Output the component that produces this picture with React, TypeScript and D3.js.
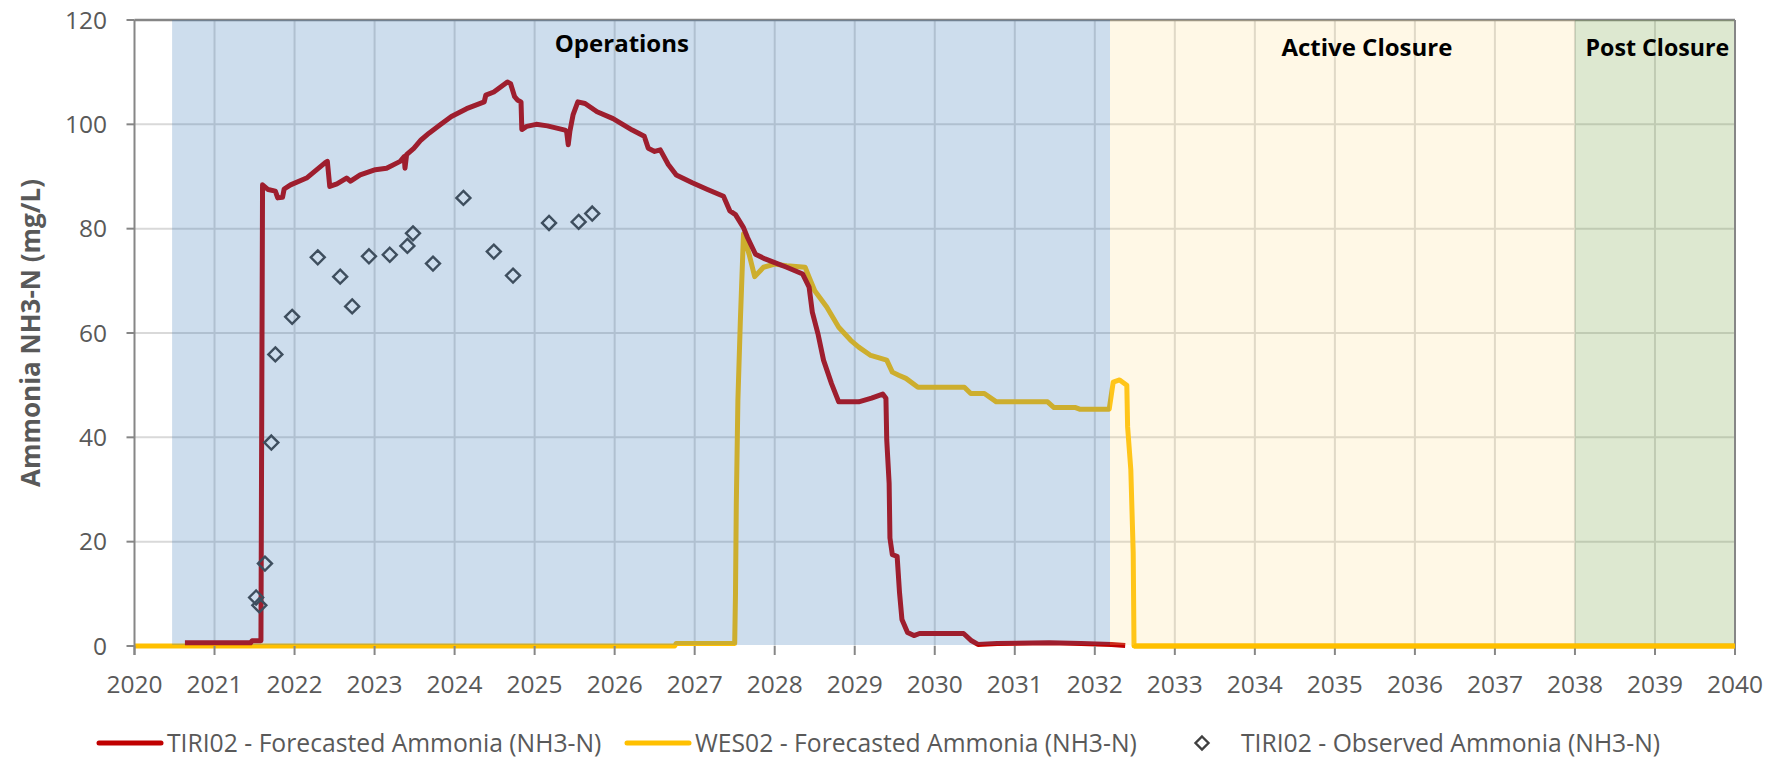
import React from "react";
import * as d3 from "d3";

const WIDTH = 1790;
const HEIGHT = 764;
const PLOT = { left: 134.5, right: 1735, top: 20, bottom: 646 };
const FONT = "'Open Sans', 'Noto Sans', sans-serif";

// TIRI02 forecast (year, mg/L)
const tiriYears = [
  2020.63, 2021.45, 2021.47, 2021.58, 2021.6, 2021.67, 2021.76, 2021.79, 2021.85, 2021.87,
  2021.95, 2022.15, 2022.38, 2022.41, 2022.44, 2022.53, 2022.65, 2022.7, 2022.82, 2023.01,
  2023.15, 2023.32, 2023.37, 2023.38, 2023.4, 2023.49, 2023.58, 2023.68, 2023.82, 2023.96,
  2024.15, 2024.37, 2024.39, 2024.49, 2024.66, 2024.7, 2024.75, 2024.79, 2024.83, 2024.84,
  2024.9, 2025.02, 2025.16, 2025.38, 2025.4, 2025.42, 2025.44, 2025.48, 2025.54, 2025.63,
  2025.78, 2025.98, 2026.22, 2026.37, 2026.42, 2026.5, 2026.57, 2026.67, 2026.77, 2026.97,
  2027.16, 2027.36, 2027.44, 2027.51, 2027.61, 2027.66, 2027.76, 2027.88, 2028.0, 2028.15,
  2028.35, 2028.43, 2028.47, 2028.54, 2028.61, 2028.71, 2028.8, 2029.05, 2029.21, 2029.35,
  2029.39, 2029.4, 2029.43, 2029.44, 2029.47, 2029.53, 2029.56, 2029.59, 2029.66, 2029.74,
  2029.81, 2030.36, 2030.46, 2030.54, 2030.78, 2031.43, 2031.83, 2032.21, 2032.38,
];
const tiriValues = [
  0.6, 0.6, 1.0, 1.0, 88.4, 87.5, 87.2, 85.9, 86.0, 87.6,
  88.4, 89.7, 92.6, 92.9, 88.1, 88.6, 89.7, 89.1, 90.3, 91.3,
  91.6, 92.9, 93.8, 91.6, 94.2, 95.4, 97.0, 98.3, 99.9, 101.5,
  103.0, 104.3, 105.6, 106.2, 108.1, 107.8, 105.3, 104.6, 104.3, 99.0,
  99.6, 100.0, 99.7, 98.9, 98.6, 96.1, 98.6, 101.8, 104.3, 104.0,
  102.4, 101.1, 98.9, 97.7, 95.4, 94.8, 95.1, 92.3, 90.3, 88.8,
  87.5, 86.2, 83.4, 82.7, 80.2, 78.3, 75.1, 74.2, 73.5, 72.6,
  71.3, 68.8, 64.0, 59.9, 54.8, 50.3, 46.8, 46.8, 47.5, 48.3,
  47.5, 39.5, 31.2, 20.7, 17.5, 17.2, 10.2, 5.1, 2.6, 2.0,
  2.4, 2.4, 1.0, 0.3, 0.5, 0.6, 0.5, 0.3, 0.1,
];

// WES02 forecast
const wesYears = [
  2020.0, 2026.75, 2026.77, 2027.5, 2027.51, 2027.52, 2027.54, 2027.57, 2027.61, 2027.68,
  2027.75, 2027.86, 2028.0, 2028.15, 2028.38, 2028.43, 2028.5, 2028.65, 2028.8, 2028.95,
  2029.05, 2029.2, 2029.4, 2029.47, 2029.55, 2029.64, 2029.79, 2030.37, 2030.45, 2030.62,
  2030.77, 2031.41, 2031.49, 2031.76, 2031.81, 2032.18, 2032.23, 2032.31, 2032.4, 2032.41,
  2032.45, 2032.48, 2032.49, 2040.0,
];
const wesValues = [
  0, 0, 0.5, 0.5, 10, 27, 47, 62, 79.0, 75.1,
  70.8, 72.6, 73.2, 72.9, 72.6, 70.7, 68.1, 65.0, 61.1, 58.6,
  57.3, 55.7, 54.8, 52.5, 51.9, 51.3, 49.6, 49.6, 48.4, 48.4,
  46.8, 46.8, 45.7, 45.7, 45.4, 45.4, 50.6, 51.0, 50.0, 42.0,
  33.8, 17.8, 0, 0,
];

// TIRI02 observed
const obsYears = [
  2021.52, 2021.56, 2021.63, 2021.71, 2021.76, 2021.97, 2022.29, 2022.57, 2022.72, 2022.93,
  2023.19, 2023.41, 2023.48, 2023.73, 2024.11, 2024.49, 2024.73, 2025.18, 2025.55, 2025.72,
];
const obsValues = [
  9.3, 7.8, 15.8, 39.0, 55.9, 63.1, 74.5, 70.8, 65.1, 74.7,
  75.0, 76.7, 79.1, 73.3, 85.9, 75.6, 71.0, 81.1, 81.3, 82.9,
];

const phaseNames = ["Operations", "Active Closure", "Post Closure"];
const phaseStart = [2020.47, 2032.19, 2038];
const phaseEnd = [2032.19, 2038, 2040];
const phaseLabelYear = [2026.09, 2035.4, 2039.03];
const phaseFill = ["rgb(56,120,184)", "rgb(255,220,130)", "rgb(120,164,68)"];
const phaseOpacity = [0.25, 0.2, 0.25];

const xTicks = d3.range(2020, 2041);
const yTicks = [0, 20, 40, 60, 80, 100, 120];

const legendNames = [
  "TIRI02 - Forecasted Ammonia (NH3-N)",
  "WES02 - Forecasted Ammonia (NH3-N)",
  "TIRI02 - Observed Ammonia (NH3-N)",
];
const legendX = [99, 627, 1171];

type Pt = [number, number];

export default function App() {
  const x = d3.scaleLinear().domain([2020, 2040]).range([PLOT.left, PLOT.right]);
  const y = d3.scaleLinear().domain([0, 120]).range([PLOT.bottom, PLOT.top]);

  const line = d3
    .line<Pt>()
    .x((d) => x(d[0]))
    .y((d) => y(d[1]));

  const tiri: Pt[] = tiriYears.map((t, i) => [t, tiriValues[i]]);
  const wes: Pt[] = wesYears.map((t, i) => [t, wesValues[i]]);

  const diamond = (cx: number, cy: number, r: number) =>
    `M${cx},${cy - r}L${cx + r},${cy}L${cx},${cy + r}L${cx - r},${cy}Z`;

  const gridColor = "#d9d9d9";
  const axisColor = "#868686";
  const textColor = "#595959";

  return (
    <svg
      width={WIDTH}
      height={HEIGHT}
      style={{ position: "absolute", left: 0, top: 0, display: "block", background: "#fff" }}
      fontFamily={FONT}
    >
      {/* gridlines */}
      <g>
        {yTicks.slice(1, -1).map((v) => (
          <line key={"h" + v} x1={x(2020)} x2={x(2040)} y1={y(v)} y2={y(v)} stroke={gridColor} strokeWidth={2} />
        ))}
        {xTicks.slice(1, -1).map((t) => (
          <line key={"v" + t} x1={x(t)} x2={x(t)} y1={y(120)} y2={y(0)} stroke={gridColor} strokeWidth={2} />
        ))}
      </g>

      {/* plot border top */}
      <line x1={x(2020)} x2={x(2040)} y1={y(120)} y2={y(120)} stroke={axisColor} strokeWidth={2.5} />

      {/* series */}
      <path d={line(wes) ?? ""} fill="none" stroke="#ffc000" strokeWidth={5} strokeLinejoin="round" />
      <path d={line(tiri) ?? ""} fill="none" stroke="#c00000" strokeWidth={5} strokeLinejoin="round" />
      {obsYears.map((t, i) => (
        <path key={"o" + i} d={diamond(x(t), y(obsValues[i]), 7)} fill="none" stroke="#404040" strokeWidth={2.4} />
      ))}

      {/* phase overlays */}
      {phaseNames.map((p, i) => (
        <rect
          key={"b" + p}
          x={x(phaseStart[i])}
          width={x(phaseEnd[i]) - x(phaseStart[i])}
          y={y(120)}
          height={y(0) - y(120) - 1}
          fill={phaseFill[i]}
          fillOpacity={phaseOpacity[i]}
        />
      ))}

      <line x1={x(2040)} x2={x(2040)} y1={y(120)} y2={y(0) + 9} stroke={axisColor} strokeWidth={2} />

      {/* axes */}
      <line x1={x(2020)} x2={x(2020)} y1={y(120)} y2={y(0) + 9} stroke={axisColor} strokeWidth={2} />
      {yTicks.map((v) => (
        <g key={"yt" + v}>
          <line x1={x(2020) - 8} x2={x(2020)} y1={y(v)} y2={y(v)} stroke={axisColor} strokeWidth={2} />
          <text x={107} y={y(v)} dy="0.35em" textAnchor="end" fontSize={24.5} fill={textColor}>
            {v}
          </text>
        </g>
      ))}
      {xTicks.map((t) => (
        <g key={"xt" + t}>
          <line x1={x(t)} x2={x(t)} y1={y(0)} y2={y(0) + 9} stroke={axisColor} strokeWidth={2} />
          <text x={x(t)} y={693} textAnchor="middle" fontSize={24.5} fill={textColor}>
            {t}
          </text>
        </g>
      ))}
      {/* zero segment of WES02 after closure, kept above the axis line */}
      <path
        d={line(wes.filter((d) => d[1] === 0 && d[0] > 2032)) ?? ""}
        fill="none"
        stroke="#ffc000"
        strokeWidth={5}
      />

      <text
        transform={`translate(40,${(PLOT.top + PLOT.bottom) / 2}) rotate(-90)`}
        textAnchor="middle"
        fontSize={26}
        fontWeight="bold"
        fill={textColor}
      >
        Ammonia NH3-N (mg/L)
      </text>

      {/* phase labels */}
      {phaseNames.map((p, i) => (
        <text
          key={"pl" + p}
          x={x(phaseLabelYear[i])}
          y={i === 0 ? 52 : 56}
          textAnchor="middle"
          fontSize={i === 2 ? 23.2 : 24}
          fontWeight="bold"
          fill="#000"
        >
          {p}
        </text>
      ))}

      {/* legend */}
      <g>
        <line x1={legendX[0]} x2={legendX[0] + 62} y1={743} y2={743} stroke="#c00000" strokeWidth={5} strokeLinecap="round" />
        <line x1={legendX[1]} x2={legendX[1] + 62} y1={743} y2={743} stroke="#ffc000" strokeWidth={5} strokeLinecap="round" />
        <path d={diamond(legendX[2] + 31, 743, 6.5)} fill="#fff" stroke="#404040" strokeWidth={2.4} />
        {legendNames.map((n, i) => (
          <text key={"lg" + i} x={legendX[i] + 68 + (i === 2 ? 2 : 0)} y={743} dy="0.35em" fontSize={24.7} fill={textColor}>
            {n}
          </text>
        ))}
      </g>
    </svg>
  );
}
